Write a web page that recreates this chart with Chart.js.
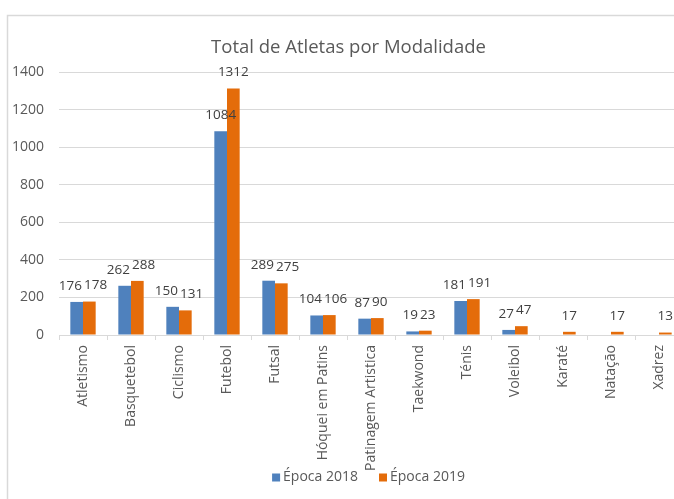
<!DOCTYPE html>
<html>
<head>
<meta charset="utf-8">
<script src="https://cdn.jsdelivr.net/npm/chart.js@4/dist/chart.umd.min.js"></script>
<style>
  html, body { margin: 0; padding: 0; background: #fff; overflow: hidden; width: 674px; height: 499px; }
  canvas { position: absolute; left: 0; top: 0; }
</style>
</head>
<body>
<canvas id="c" width="700" height="499"></canvas>
<script>
const categories = ["Atletismo", "Basquetebol", "Ciclismo", "Futebol", "Futsal", "Hóquei em Patins",
  "Patinagem Artistica", "Taekwond", "Ténis", "Voleibol", "Karaté", "Natação", "Xadrez"];
const epoca2018 = [176, 262, 150, 1084, 289, 104, 87, 19, 181, 27, null, null, null];
const epoca2019 = [178, 288, 131, 1312, 275, 106, 90, 23, 191, 47, 17, 17, 13];
const seriesNames = ["Época 2018", "Época 2019"];
const yTicks = [0, 200, 400, 600, 800, 1000, 1200, 1400];
const titleText = "Total de Atletas por Modalidade";

const BLUE = "#4F81BD", ORANGE = "#E46C0A", GRID = "#d9d9d9", TXT = "#595959";
const FONT = "'Open Sans', 'DejaVu Sans', sans-serif";

const framePlugin = {
  id: "frame",
  beforeDraw(chart) {
    const ctx = chart.ctx;
    ctx.save();
    ctx.fillStyle = "#fff";
    ctx.fillRect(0, 0, chart.width, chart.height);
    ctx.strokeStyle = GRID;
    ctx.lineWidth = 1.5;
    ctx.strokeRect(7.5, 15.5, 900, 700);
    ctx.restore();
  },
  afterDraw(chart) {
    const ctx = chart.ctx;
    const ca = chart.chartArea;
    ctx.save();
    // title
    ctx.fillStyle = TXT;
    ctx.font = "18.5px " + FONT;
    ctx.textAlign = "center";
    ctx.textBaseline = "middle";
    ctx.fillText(titleText, 348.5, 48);
    // legend
    ctx.font = "14px " + FONT;
    const colors = [BLUE, ORANGE];
    const box = 8, gapBox = 3, gapItem = 21;
    const widths = seriesNames.map(n => ctx.measureText(n).width);
    const total = widths.reduce((a, w) => a + box + gapBox + w, 0) + gapItem * (seriesNames.length - 1);
    let x = (ca.left + ca.right) / 2 - 2.5 - total / 2;
    const yc = 477.5;
    ctx.textAlign = "left";
    seriesNames.forEach((n, i) => {
      ctx.fillStyle = colors[i];
      ctx.fillRect(x, yc - box / 2, box, box);
      x += box + gapBox;
      ctx.fillStyle = TXT;
      ctx.fillText(n, x, yc);
      x += widths[i] + gapItem;
    });
    ctx.restore();
  }
};

const labelPlugin = {
  id: "valueLabels",
  afterDatasetsDraw(chart) {
    const ctx = chart.ctx;
    ctx.save();
    ctx.font = "13.5px " + FONT;
    ctx.fillStyle = "#404040";
    ctx.textAlign = "center";
    ctx.textBaseline = "middle";
    const n = chart.data.labels.length;
    for (let i = 0; i < n; i++) {
      const items = [];
      chart.data.datasets.forEach((ds, d) => {
        const v = ds.data[i];
        if (v === null || v === undefined) return;
        const el = chart.getDatasetMeta(d).data[i];
        const txt = String(v);
        items.push({ txt, x: el.x, y: el.y - 16, w: ctx.measureText(txt).width });
      });
      if (items.length === 2) {
        const [a, b] = items;
        const need = (a.w + b.w) / 2 + 2;
        const dist = b.x - a.x;
        if (Math.abs(a.y - b.y) < 16 && dist < need) {
          const push = (need - dist) / 2;
          a.x -= push; b.x += push;
        }
      }
      items.forEach(it => ctx.fillText(it.txt, it.x, it.y));
    }
    ctx.restore();
  }
};

new Chart(document.getElementById("c"), {
  type: "bar",
  data: {
    labels: categories,
    datasets: [
      { label: seriesNames[0], data: epoca2018, backgroundColor: BLUE },
      { label: seriesNames[1], data: epoca2019, backgroundColor: ORANGE }
    ]
  },
  options: {
    responsive: false,
    animation: false,
    devicePixelRatio: 1,
    layout: { padding: { left: 0, right: 17, top: 72, bottom: 0 } },
    datasets: { bar: { categoryPercentage: 0.528, barPercentage: 1.0 } },
    plugins: { legend: { display: false }, title: { display: false }, tooltip: { enabled: false } },
    scales: {
      x: {
        grid: { display: true, drawOnChartArea: false, drawTicks: true, tickLength: 5, color: GRID, offset: true },
        border: { display: true, color: GRID, width: 1 },
        ticks: { minRotation: 90, maxRotation: 90, autoSkip: false, padding: 5, color: TXT, font: { family: FONT, size: 14 } },
        afterFit(s) { s.height = 164; }
      },
      y: {
        min: 0, max: 1400,
        afterBuildTicks(s) { s.ticks = yTicks.map(v => ({ value: v })); },
        grid: { color: GRID, lineWidth: 1, drawTicks: false },
        border: { display: false },
        ticks: { padding: 15, color: TXT, font: { family: FONT, size: 14 }, callback: v => String(v) },
        afterFit(s) { s.width = 59; }
      }
    }
  },
  plugins: [framePlugin, labelPlugin]
});
</script>
</body>
</html>
